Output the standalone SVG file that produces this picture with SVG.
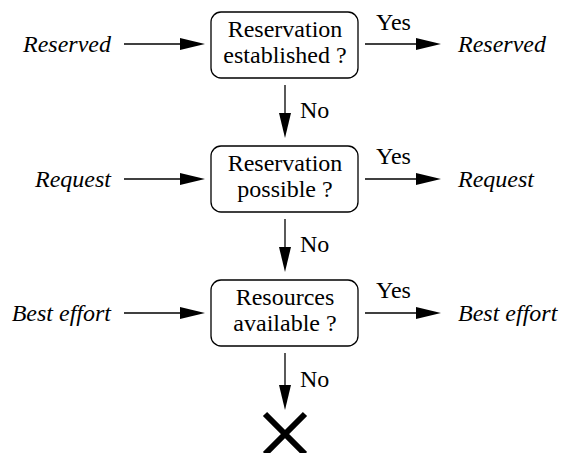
<svg xmlns="http://www.w3.org/2000/svg" width="562" height="453" viewBox="0 0 562 453">
  <rect width="562" height="453" fill="#fff"/>

  <!-- connectors: shafts, heads and their Yes / No labels -->
  <g id="edges">
    <g stroke="#000" stroke-width="1.3" fill="none">
      <line x1="124" y1="44" x2="185" y2="44"/>
      <line x1="365" y1="44" x2="421" y2="44"/>
      <line x1="285" y1="85" x2="285" y2="118"/>
      <line x1="124" y1="179" x2="185" y2="179"/>
      <line x1="365" y1="179" x2="421" y2="179"/>
      <line x1="285" y1="219" x2="285" y2="252"/>
      <line x1="124" y1="313" x2="185" y2="313"/>
      <line x1="365" y1="313" x2="421" y2="313"/>
      <line x1="285" y1="353" x2="285" y2="390"/>
    </g>
    <g fill="#000">
      <polygon points="180,38 205,44 180,50"/>
      <polygon points="416,38 441,44 416,50"/>
      <polygon points="279,113 285,138 291,113"/>
      <polygon points="180,173 205,179 180,185"/>
      <polygon points="416,173 441,179 416,185"/>
      <polygon points="279,247 285,272 291,247"/>
      <polygon points="180,307 205,313 180,319"/>
      <polygon points="416,307 441,313 416,319"/>
      <polygon points="279,385 285,410 291,385"/>
    </g>
    <text x="376" y="30" font-family="Liberation Serif" font-size="24">Yes</text>
    <text x="300" y="118" font-family="Liberation Serif" font-size="24">No</text>
    <text x="376" y="164" font-family="Liberation Serif" font-size="24">Yes</text>
    <text x="300" y="252" font-family="Liberation Serif" font-size="24">No</text>
    <text x="376" y="298" font-family="Liberation Serif" font-size="24">Yes</text>
    <text x="300" y="387" font-family="Liberation Serif" font-size="24">No</text>
  </g>

  <!-- incoming request classes -->
  <g id="in-reserved"><text x="111" y="52" font-family="Liberation Serif" font-size="24" font-style="italic" text-anchor="end">Reserved</text></g>
  <g id="in-request"><text x="111" y="187" font-family="Liberation Serif" font-size="24" font-style="italic" text-anchor="end">Request</text></g>
  <g id="in-best-effort"><text x="111" y="321" font-family="Liberation Serif" font-size="24" font-style="italic" text-anchor="end">Best effort</text></g>

  <!-- granted classes -->
  <g id="out-reserved"><text x="458" y="52" font-family="Liberation Serif" font-size="24" font-style="italic">Reserved</text></g>
  <g id="out-request"><text x="458" y="187" font-family="Liberation Serif" font-size="24" font-style="italic">Request</text></g>
  <g id="out-best-effort"><text x="458" y="321" font-family="Liberation Serif" font-size="24" font-style="italic">Best effort</text></g>

  <!-- decision boxes -->
  <g id="check-established">
    <rect x="211" y="12" width="147" height="66" rx="10" fill="#fff" stroke="#000" stroke-width="1.3"/>
    <text x="285" y="37" font-family="Liberation Serif" font-size="24" text-anchor="middle">Reservation</text>
    <text x="285" y="63" font-family="Liberation Serif" font-size="24" text-anchor="middle">established ?</text>
  </g>
  <g id="check-possible">
    <rect x="211" y="146" width="147" height="66" rx="10" fill="#fff" stroke="#000" stroke-width="1.3"/>
    <text x="285" y="171" font-family="Liberation Serif" font-size="24" text-anchor="middle">Reservation</text>
    <text x="285" y="197" font-family="Liberation Serif" font-size="24" text-anchor="middle">possible ?</text>
  </g>
  <g id="check-resources">
    <rect x="211" y="280" width="147" height="66" rx="10" fill="#fff" stroke="#000" stroke-width="1.3"/>
    <text x="285" y="305" font-family="Liberation Serif" font-size="24" text-anchor="middle">Resources</text>
    <text x="285" y="331" font-family="Liberation Serif" font-size="24" text-anchor="middle">available ?</text>
  </g>

  <!-- rejection mark -->
  <g id="rejected">
    <path d="M265,414 L305,454 M305,414 L265,454" stroke="#000" stroke-width="6" fill="none"/>
  </g>
</svg>
